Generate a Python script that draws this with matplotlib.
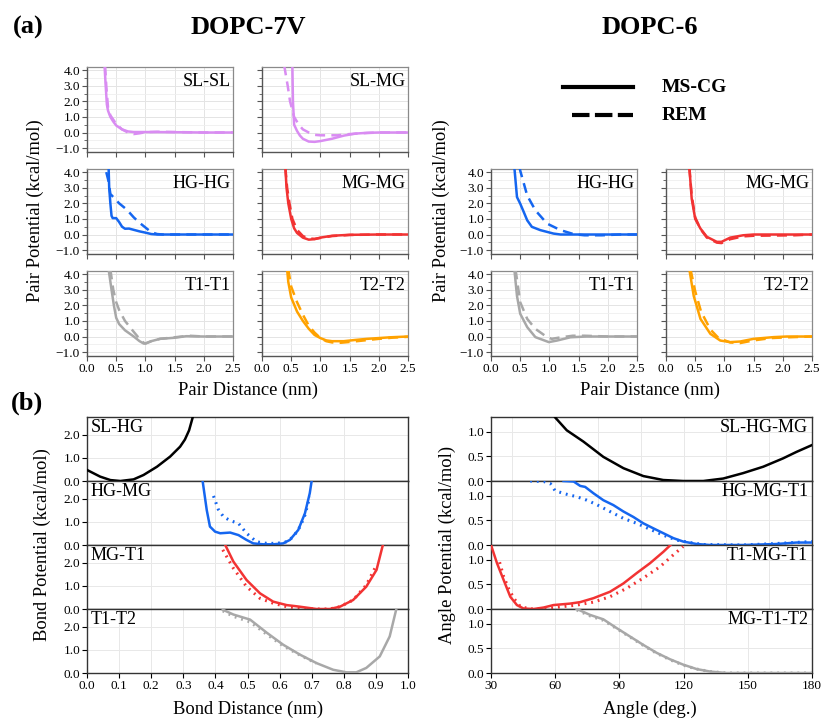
import matplotlib

matplotlib.use("Agg")
import matplotlib.pyplot as plt  # noqa: E402
from matplotlib.ticker import MultipleLocator  # noqa: E402

plt.rcParams["font.family"] = ["Liberation Serif", "DejaVu Serif"]
plt.rcParams["mathtext.fontset"] = "stix"

# --- colours per bead type ---
C_SL = "#d98cf2"
C_HG = "#1566f0"
C_MG = "#f23333"
C_T1 = "#a8a8a8"
C_T2 = "#ffa200"
C_BLK = "#000000"

# --- (a) pair potentials, DOPC-7V ---
slsl_7v_ms_x = [0.30, 0.32, 0.34, 0.36, 0.40, 0.45, 0.50, 0.60, 0.70, 0.80, 1.00, 1.50, 2.00, 2.50]
slsl_7v_ms_y = [4.3, 3.0, 1.8, 1.4, 1.0, 0.7, 0.45, 0.2, 0.07, 0.03, 0.03, 0.02, 0.0, 0.0]
slsl_7v_re_x = [0.31, 0.33, 0.36, 0.40, 0.50, 0.60, 0.70, 0.80, 0.90, 1.00, 1.20, 1.50, 2.00, 2.50]
slsl_7v_re_y = [4.3, 3.0, 1.6, 1.1, 0.55, 0.2, 0.0, -0.1, -0.05, 0.02, 0.05, 0.03, 0.0, 0.0]

slmg_7v_ms_x = [0.52, 0.53, 0.55, 0.60, 0.65, 0.70, 0.80, 0.90, 1.00, 1.20, 1.40, 1.60, 1.80, 2.00, 2.50]
slmg_7v_ms_y = [4.3, 2.0, 0.5, 0.1, -0.2, -0.4, -0.58, -0.6, -0.55, -0.4, -0.2, -0.07, -0.02, 0.0, 0.0]
slmg_7v_re_x = [0.38, 0.44, 0.48, 0.55, 0.63, 0.70, 0.80, 0.90, 1.00, 1.30, 1.50, 1.70, 2.00, 2.50]
slmg_7v_re_y = [4.3, 3.0, 2.0, 1.0, 0.5, 0.2, 0.0, -0.15, -0.18, -0.18, -0.1, -0.05, 0.0, 0.0]

hghg_7v_ms_x = [0.37, 0.38, 0.40, 0.42, 0.44, 0.50, 0.55, 0.60, 0.65, 0.72, 0.80, 0.90, 1.00, 1.10, 1.20, 2.50]
hghg_7v_ms_y = [4.3, 3.0, 2.0, 1.2, 1.05, 1.05, 0.8, 0.5, 0.37, 0.38, 0.3, 0.2, 0.12, 0.03, 0.0, 0.0]
hghg_7v_re_x = [0.33, 0.37, 0.40, 0.45, 0.55, 0.68, 0.80, 0.90, 1.00, 1.10, 1.20, 1.30, 2.50]
hghg_7v_re_y = [4.0, 3.4, 2.6, 2.4, 2.0, 1.6, 1.1, 0.75, 0.45, 0.15, 0.03, 0.0, 0.0]

mgmg_7v_ms_x = [0.40, 0.42, 0.45, 0.50, 0.55, 0.60, 0.70, 0.80, 0.90, 1.00, 1.20, 1.50, 2.00, 2.50]
mgmg_7v_ms_y = [4.3, 3.0, 2.0, 1.0, 0.4, 0.1, -0.2, -0.33, -0.3, -0.2, -0.08, -0.02, 0.0, 0.0]
mgmg_7v_re_x = [0.40, 0.43, 0.47, 0.52, 0.60, 0.70, 0.80, 0.90, 1.00, 1.20, 1.50, 2.00, 2.50]
mgmg_7v_re_y = [4.3, 3.0, 2.0, 1.0, 0.3, -0.1, -0.25, -0.28, -0.22, -0.1, -0.03, 0.0, 0.0]

t1t1_7v_ms_x = [0.37, 0.42, 0.46, 0.50, 0.55, 0.65, 0.80, 0.90, 0.97, 1.00, 1.10, 1.25, 1.50, 1.70, 2.00, 2.50]
t1t1_7v_ms_y = [4.3, 3.0, 2.0, 1.2, 0.8, 0.4, 0.0, -0.3, -0.45, -0.45, -0.3, -0.15, -0.08, 0.02, 0.0, 0.0]
t1t1_7v_re_x = [0.40, 0.45, 0.50, 0.55, 0.65, 0.80, 0.90, 0.97, 1.00, 1.10, 1.25, 1.50, 1.75, 2.00, 2.50]
t1t1_7v_re_y = [4.3, 3.0, 2.2, 1.7, 1.0, 0.3, -0.15, -0.4, -0.45, -0.3, -0.15, -0.05, 0.05, 0.0, 0.0]

t2t2_7v_ms_x = [0.43, 0.45, 0.50, 0.60, 0.70, 0.80, 0.90, 1.00, 1.10, 1.20, 1.40, 1.60, 1.80, 2.00, 2.20, 2.50]
t2t2_7v_ms_y = [4.3, 3.5, 2.5, 1.6, 1.0, 0.5, 0.1, -0.1, -0.25, -0.3, -0.3, -0.22, -0.15, -0.1, -0.05, 0.0]
t2t2_7v_re_x = [0.45, 0.50, 0.60, 0.70, 0.80, 0.90, 1.00, 1.10, 1.20, 1.35, 1.50, 1.75, 2.00, 2.25, 2.50]
t2t2_7v_re_y = [4.3, 3.2, 2.2, 1.4, 0.7, 0.25, -0.1, -0.3, -0.38, -0.4, -0.35, -0.25, -0.15, -0.07, -0.02]

# --- (a) pair potentials, DOPC-6 ---
hghg_6_ms_x = [0.40, 0.445, 0.50, 0.56, 0.62, 0.70, 0.845, 1.07, 1.19, 2.50]
hghg_6_ms_y = [4.3, 2.4, 1.98, 1.45, 0.91, 0.49, 0.28, 0.06, 0.0, 0.0]
hghg_6_re_x = [0.49, 0.50, 0.62, 0.76, 0.96, 1.19, 1.42, 1.60, 1.90, 2.20, 2.50]
hghg_6_re_y = [4.3, 4.1, 2.5, 1.55, 0.7, 0.28, 0.02, -0.05, -0.05, 0.0, 0.0]

mgmg_6_ms_x = [0.40, 0.44, 0.50, 0.59, 0.70, 0.87, 0.95, 1.10, 1.32, 1.50, 2.50]
mgmg_6_ms_y = [4.3, 2.3, 1.0, 0.38, -0.15, -0.47, -0.47, -0.2, -0.05, 0.0, 0.0]
mgmg_6_re_x = [0.40, 0.44, 0.50, 0.59, 0.70, 0.87, 0.95, 1.10, 1.32, 1.50, 2.20, 2.50]
mgmg_6_re_y = [4.3, 2.5, 1.1, 0.35, -0.2, -0.52, -0.55, -0.3, -0.12, -0.08, -0.05, 0.0]

t1t1_6_ms_x = [0.40, 0.445, 0.50, 0.62, 0.76, 0.99, 1.13, 1.36, 1.64, 2.50]
t1t1_6_ms_y = [4.3, 2.6, 1.46, 0.6, -0.04, -0.36, -0.26, -0.05, 0.0, 0.0]
t1t1_6_re_x = [0.42, 0.50, 0.62, 0.76, 0.96, 1.04, 1.20, 1.40, 1.60, 2.00, 2.50]
t1t1_6_re_y = [4.3, 2.2, 1.13, 0.49, -0.04, -0.15, -0.05, 0.05, 0.05, 0.0, 0.0]

t2t2_6_ms_x = [0.40, 0.475, 0.59, 0.76, 0.93, 1.10, 1.27, 1.50, 1.84, 2.07, 2.50]
t2t2_6_ms_y = [4.3, 2.6, 1.13, 0.17, -0.26, -0.36, -0.32, -0.15, -0.04, 0.0, 0.0]
t2t2_6_re_x = [0.42, 0.50, 0.60, 0.76, 0.90, 1.10, 1.27, 1.50, 1.80, 2.10, 2.50]
t2t2_6_re_y = [4.3, 2.9, 1.6, 0.45, -0.1, -0.38, -0.42, -0.25, -0.1, -0.05, 0.0]

# --- (b) bond potentials (MS-CG solid, REM dotted) ---
slhg_bond_ms_x = [0.0, 0.041, 0.073, 0.104, 0.145, 0.176, 0.218, 0.259, 0.29, 0.305, 0.318, 0.33]
slhg_bond_ms_y = [0.48, 0.19, 0.04, 0.0, 0.07, 0.26, 0.62, 1.06, 1.49, 1.8, 2.2, 2.8]

hgmg_bond_ms_x = [0.36, 0.373, 0.383, 0.399, 0.415, 0.446, 0.472, 0.497, 0.518, 0.549, 0.58,
                  0.611, 0.632, 0.658, 0.679, 0.694, 0.70]
hgmg_bond_ms_y = [2.8, 1.52, 0.80, 0.58, 0.51, 0.54, 0.43, 0.22, 0.07, 0.03, 0.03,
                  0.07, 0.22, 0.65, 1.38, 2.25, 2.8]
hgmg_bond_re_x = [0.394, 0.409, 0.425, 0.446, 0.472, 0.497, 0.528, 0.56, 0.591, 0.622, 0.643,
                  0.664, 0.679, 0.694]
hgmg_bond_re_y = [2.13, 1.55, 1.23, 1.06, 0.94, 0.51, 0.14, 0.07, 0.07, 0.14, 0.36,
                  0.80, 1.30, 2.10]

mgt1_bond_ms_x = [0.43, 0.456, 0.497, 0.539, 0.58, 0.622, 0.663, 0.715, 0.756, 0.788, 0.829,
                  0.87, 0.902, 0.922]
mgt1_bond_ms_y = [2.8, 2.06, 1.26, 0.68, 0.32, 0.17, 0.10, 0.0, 0.0, 0.10, 0.39,
                  0.97, 1.70, 2.8]
mgt1_bond_re_x = [0.423, 0.456, 0.497, 0.539, 0.58, 0.622, 0.663, 0.715, 0.756, 0.788, 0.829,
                  0.87, 0.902]
mgt1_bond_re_y = [2.57, 1.77, 0.97, 0.46, 0.25, 0.10, 0.03, 0.0, 0.0, 0.10, 0.39,
                  1.04, 1.91]

t1t2_bond_ms_x = [0.423, 0.456, 0.508, 0.56, 0.611, 0.663, 0.715, 0.767, 0.808, 0.839, 0.87,
                  0.912, 0.943, 0.964]
t1t2_bond_ms_y = [2.75, 2.54, 2.32, 1.75, 1.23, 0.80, 0.43, 0.14, 0.03, 0.03, 0.22,
                  0.72, 1.59, 2.8]
t1t2_bond_re_x = [0.423, 0.456, 0.508, 0.56, 0.611, 0.663, 0.715]
t1t2_bond_re_y = [2.7, 2.46, 2.22, 1.68, 1.18, 0.78, 0.42]

# --- (b) angle potentials (MS-CG solid, REM dotted) ---
slhgmg_ang_ms_x = [60.0, 65.4, 73.2, 82.5, 91.9, 101.2, 110.5, 119.8, 129.2, 138.5, 147.8,
                   157.2, 166.5, 172.7, 180.0]
slhgmg_ang_ms_y = [1.29, 1.03, 0.80, 0.49, 0.26, 0.10, 0.02, 0.0, 0.0, 0.05, 0.16,
                   0.29, 0.46, 0.59, 0.73]

hgmgt1_ang_ms_x = [63.9, 68.6, 71.7, 74.0, 77.9, 82.5, 87.2, 91.9, 96.5, 101.2, 105.8, 110.5,
                   115.2, 119.8, 126.1, 132.3, 147.8, 163.4, 172.7, 180.0]
hgmgt1_ang_ms_y = [1.3, 1.29, 1.2, 1.18, 1.05, 0.91, 0.81, 0.68, 0.57, 0.44, 0.34, 0.24,
                   0.14, 0.07, 0.02, 0.0, 0.0, 0.02, 0.05, 0.05]
hgmgt1_ang_re_x = [48.3, 54.6, 57.7, 60.0, 65.4, 70.1, 74.8, 79.4, 85.6, 91.9, 98.1, 104.3,
                   110.5, 116.7, 122.9, 129.2, 147.8, 163.4, 180.0]
hgmgt1_ang_re_y = [1.3, 1.29, 1.25, 1.10, 1.03, 0.98, 0.91, 0.82, 0.68, 0.54, 0.44, 0.32,
                   0.20, 0.10, 0.05, 0.01, 0.0, 0.03, 0.07]

t1mgt1_ang_ms_x = [30.0, 32.8, 35.9, 39.0, 42.1, 45.2, 49.9, 54.6, 59.2, 67.0, 71.7, 77.9,
                   85.6, 91.9, 98.1, 104.3, 110.5, 113.9]
t1mgt1_ang_ms_y = [1.3, 0.93, 0.59, 0.25, 0.08, 0.01, 0.0, 0.03, 0.08, 0.11, 0.14, 0.22,
                   0.35, 0.52, 0.73, 0.93, 1.16, 1.3]
t1mgt1_ang_re_x = [34.0, 35.9, 38.2, 40.6, 43.7, 48.3, 57.6, 70.1, 77.9, 85.6, 93.4, 101.2,
                   109.0, 115.2, 119.8]
t1mgt1_ang_re_y = [0.95, 0.66, 0.42, 0.22, 0.05, 0.0, 0.02, 0.08, 0.14, 0.25, 0.42, 0.63,
                   0.86, 1.10, 1.27]

mgt1t2_ang_ms_x = [70.1, 76.3, 82.5, 88.8, 95.0, 101.2, 107.4, 113.6, 119.8, 126.1, 132.3,
                   140.0, 180.0]
mgt1t2_ang_ms_y = [1.3, 1.18, 1.09, 0.91, 0.74, 0.57, 0.41, 0.28, 0.17, 0.08, 0.03, 0.0, 0.0]
mgt1t2_ang_re_x = [70.1, 76.3, 82.5, 88.8, 95.0, 101.2, 107.4, 113.6, 119.8, 126.1, 132.3,
                   140.0, 180.0]
mgt1t2_ang_re_y = [1.28, 1.16, 1.07, 0.90, 0.73, 0.56, 0.40, 0.27, 0.16, 0.08, 0.03, 0.0, 0.0]

FW, FH = 823, 719
TICK_FS = 9.5
LABEL_FS = 13.3
PANEL_FS = 13
HEAD_FS = 19


def px_axes(fig, left, top, w, h):
    """Add axes from pixel coordinates measured from the top-left corner."""
    return fig.add_axes([left / FW, 1 - (top + h) / FH, w / FW, h / FH])


def fig_text(fig, x, y, s, **kw):
    """Figure text at pixel position (x, y) from the top-left corner."""
    kw.setdefault("ha", "center")
    kw.setdefault("va", "center")
    return fig.text(x / FW, 1 - y / FH, s, **kw)


def style_pair(ax, label, xlabels, ylabels):
    ax.set_xlim(0, 2.5)
    ax.set_ylim(-1.25, 4.2)
    ax.xaxis.set_major_locator(MultipleLocator(0.5))
    ax.yaxis.set_major_locator(MultipleLocator(1.0))
    ax.yaxis.set_minor_locator(MultipleLocator(0.5))
    ax.grid(which="major", color="#e4e4e4", lw=0.7)
    ax.grid(which="minor", axis="y", color="#efefef", lw=0.6)
    ax.set_axisbelow(True)
    for s in ("top", "right"):
        ax.spines[s].set_color("#8a8a8a")
        ax.spines[s].set_linewidth(0.9)
    for s in ("left", "bottom"):
        ax.spines[s].set_color("#555555")
        ax.spines[s].set_linewidth(1.0)
    ax.tick_params(which="both", direction="out", colors="#555555", labelcolor="black",
                   labelsize=TICK_FS, pad=1.5)
    ax.tick_params(which="major", length=3.5)
    ax.tick_params(which="minor", length=2)
    ax.yaxis.set_major_formatter("{x:.1f}")
    ax.xaxis.set_major_formatter("{x:.1f}")
    if not xlabels:
        ax.tick_params(axis="x", labelbottom=False)
    if not ylabels:
        ax.tick_params(axis="y", labelleft=False)
    ax.text(0.985, 0.93, label, transform=ax.transAxes, ha="right", va="top", fontsize=PANEL_FS)


def pair_panel(ax, ms, re, color, label, xlabels, ylabels):
    ax.plot(ms[0], ms[1], color=color, lw=1.8, zorder=3)
    ax.plot(re[0], re[1], color=color, lw=1.8, ls=(0, (4, 2.5)), zorder=3)
    style_pair(ax, label, xlabels, ylabels)


def style_stack(ax, label, xlim, ylim, yticks, label_left, bottom):
    ax.set_xlim(*xlim)
    ax.set_ylim(*ylim)
    ax.set_yticks(yticks)
    ax.yaxis.set_major_formatter("{x:.1f}")
    ax.grid(color="#e8e8e8", lw=0.7)
    ax.set_axisbelow(True)
    for s in ax.spines.values():
        s.set_color("#333333")
        s.set_linewidth(1.0)
    ax.tick_params(direction="out", length=3.5, labelsize=TICK_FS, pad=1.5)
    if not bottom:
        ax.tick_params(axis="x", labelbottom=False, length=0)
    if label_left:
        ax.text(0.012, 0.97, label, transform=ax.transAxes, ha="left", va="top", fontsize=PANEL_FS)
    else:
        ax.text(0.988, 0.97, label, transform=ax.transAxes, ha="right", va="top", fontsize=PANEL_FS)


fig = plt.figure(figsize=(FW / 100, FH / 100), dpi=100)

# (a) grid: rows of pair panels
rows_top = [67, 169, 271]
ph, pw = 85, 146

pair_panels = [
    (0, 87, (slsl_7v_ms_x, slsl_7v_ms_y), (slsl_7v_re_x, slsl_7v_re_y), C_SL, "SL-SL"),
    (0, 262, (slmg_7v_ms_x, slmg_7v_ms_y), (slmg_7v_re_x, slmg_7v_re_y), C_SL, "SL-MG"),
    (1, 87, (hghg_7v_ms_x, hghg_7v_ms_y), (hghg_7v_re_x, hghg_7v_re_y), C_HG, "HG-HG"),
    (1, 262, (mgmg_7v_ms_x, mgmg_7v_ms_y), (mgmg_7v_re_x, mgmg_7v_re_y), C_MG, "MG-MG"),
    (2, 87, (t1t1_7v_ms_x, t1t1_7v_ms_y), (t1t1_7v_re_x, t1t1_7v_re_y), C_T1, "T1-T1"),
    (2, 262, (t2t2_7v_ms_x, t2t2_7v_ms_y), (t2t2_7v_re_x, t2t2_7v_re_y), C_T2, "T2-T2"),
    (1, 491, (hghg_6_ms_x, hghg_6_ms_y), (hghg_6_re_x, hghg_6_re_y), C_HG, "HG-HG"),
    (1, 666, (mgmg_6_ms_x, mgmg_6_ms_y), (mgmg_6_re_x, mgmg_6_re_y), C_MG, "MG-MG"),
    (2, 491, (t1t1_6_ms_x, t1t1_6_ms_y), (t1t1_6_re_x, t1t1_6_re_y), C_T1, "T1-T1"),
    (2, 666, (t2t2_6_ms_x, t2t2_6_ms_y), (t2t2_6_re_x, t2t2_6_re_y), C_T2, "T2-T2"),
]
for row, left, ms, re, color, label in pair_panels:
    ax = px_axes(fig, left, rows_top[row], pw, ph)
    pair_panel(ax, ms, re, color, label, xlabels=(row == 2), ylabels=(left in (87, 491)))

# line-style key
lax = px_axes(fig, 555, 72, 140, 60)
lax.set_xlim(0, 140)
lax.set_ylim(60, 0)
lax.axis("off")
lax.plot([8, 78], [15, 15], color="black", lw=3)
lax.plot([17, 78], [43, 43], color="black", lw=3, ls=(0, (4.2, 1.3)))
lax.text(107, 15, "MS-CG", fontsize=14, fontweight="bold", va="center")
lax.text(107, 43, "REM", fontsize=14, fontweight="bold", va="center")

fig_text(fig, 28, 27, "(a)", fontsize=HEAD_FS, fontweight="bold")
fig_text(fig, 248, 27, "DOPC-7V", fontsize=HEAD_FS, fontweight="bold")
fig_text(fig, 650, 27, "DOPC-6", fontsize=HEAD_FS, fontweight="bold")
fig_text(fig, 35, 211, "Pair Potential (kcal/mol)", rotation=90, fontsize=LABEL_FS)
fig_text(fig, 441, 211, "Pair Potential (kcal/mol)", rotation=90, fontsize=LABEL_FS)
fig_text(fig, 248, 390, "Pair Distance (nm)", fontsize=LABEL_FS)
fig_text(fig, 650, 390, "Pair Distance (nm)", fontsize=LABEL_FS)

# (b) stacked bond / angle panels
stack_top, sh = 417, 64
bond_curves = [
    ("SL-HG", C_BLK, (slhg_bond_ms_x, slhg_bond_ms_y), None),
    ("HG-MG", C_HG, (hgmg_bond_ms_x, hgmg_bond_ms_y), (hgmg_bond_re_x, hgmg_bond_re_y)),
    ("MG-T1", C_MG, (mgt1_bond_ms_x, mgt1_bond_ms_y), (mgt1_bond_re_x, mgt1_bond_re_y)),
    ("T1-T2", C_T1, (t1t2_bond_ms_x, t1t2_bond_ms_y), (t1t2_bond_re_x, t1t2_bond_re_y)),
]
angle_curves = [
    ("SL-HG-MG", C_BLK, (slhgmg_ang_ms_x, slhgmg_ang_ms_y), None),
    ("HG-MG-T1", C_HG, (hgmgt1_ang_ms_x, hgmgt1_ang_ms_y), (hgmgt1_ang_re_x, hgmgt1_ang_re_y)),
    ("T1-MG-T1", C_MG, (t1mgt1_ang_ms_x, t1mgt1_ang_ms_y), (t1mgt1_ang_re_x, t1mgt1_ang_re_y)),
    ("MG-T1-T2", C_T1, (mgt1t2_ang_ms_x, mgt1t2_ang_ms_y), (mgt1t2_ang_re_x, mgt1t2_ang_re_y)),
]

for i, (label, color, ms, re) in enumerate(bond_curves):
    ax = px_axes(fig, 87, stack_top + i * sh, 321, sh)
    if re is not None:
        ax.plot(re[0], re[1], color=color, lw=2.2, ls=(0, (0.6, 1.6)), zorder=3)
    ax.plot(ms[0], ms[1], color=color, lw=1.8, zorder=4)
    style_stack(ax, label, (0, 1.0), (0, 2.78), [0, 1, 2], True, i == 3)
    if i == 3:
        ax.set_xticks([k / 10 for k in range(11)])
        ax.xaxis.set_major_formatter("{x:.1f}")

for i, (label, color, ms, re) in enumerate(angle_curves):
    ax = px_axes(fig, 491, stack_top + i * sh, 321, sh)
    if re is not None:
        ax.plot(re[0], re[1], color=color, lw=2.2, ls=(0, (0.6, 1.6)), zorder=3)
    ax.plot(ms[0], ms[1], color=color, lw=1.8, zorder=4)
    style_stack(ax, label, (30, 180), (0, 1.3), [0, 0.5, 1.0], False, i == 3)
    if i == 3:
        ax.set_xticks([30, 60, 90, 120, 150, 180])
        ax.xaxis.set_major_formatter("{x:.0f}")

fig_text(fig, 27, 403, "(b)", fontsize=HEAD_FS, fontweight="bold")
fig_text(fig, 42, 545, "Bond Potential (kcal/mol)", rotation=90, fontsize=LABEL_FS)
fig_text(fig, 447, 545, "Angle Potential (kcal/mol)", rotation=90, fontsize=LABEL_FS)
fig_text(fig, 248, 709, "Bond Distance (nm)", fontsize=LABEL_FS)
fig_text(fig, 650, 709, "Angle (deg.)", fontsize=LABEL_FS)

fig.savefig("out.png", dpi=100)
